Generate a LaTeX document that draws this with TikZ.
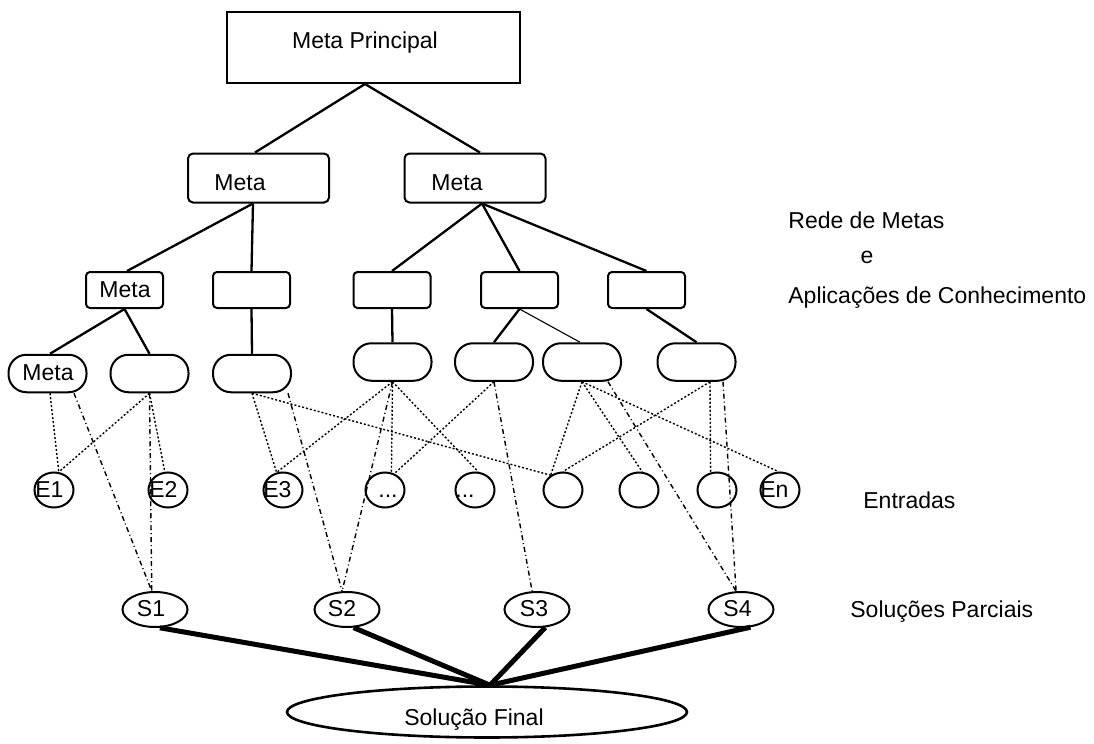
\documentclass[tikz,border=0pt]{standalone}
\usepackage{fontspec}
\setmainfont{Liberation Sans}
\usetikzlibrary{shapes.geometric}
\begin{document}
\begin{tikzpicture}[x=0.5pt,y=-0.5pt,
  shp/.style={draw, line width=1pt, inner sep=0pt},
  topbox/.style={shp, rectangle, minimum width=146.5pt, minimum height=35.5pt},
  goalbox/.style={shp, rectangle, rounded corners=2.5pt, minimum width=70.5pt, minimum height=24.5pt},
  appbox/.style={shp, rectangle, rounded corners=2pt, minimum width=38.5pt, minimum height=18pt},
  pill/.style={shp, rectangle, rounded corners=9pt, minimum width=39pt, minimum height=18.75pt},
  entry/.style={shp, ellipse, minimum width=19.5pt, minimum height=17.5pt},
  sol/.style={shp, ellipse, minimum width=32.5pt, minimum height=17.5pt},
  fin/.style={shp, ellipse, line width=1.3pt, minimum width=200pt, minimum height=25.5pt},
  txt/.style={inner sep=0pt, font=\fontsize{11.5pt}{13pt}\selectfont},
  tree/.style={line width=1.15pt},
  fineline/.style={line width=0.55pt},
  heavy/.style={line width=2.5pt},
  dots/.style={line width=0.7pt, dash pattern=on 1pt off 1pt},
  dashdot/.style={line width=0.7pt, dash pattern=on 2.5pt off 1.5pt on 0.5pt off 1.5pt}
]
\useasboundingbox (0,0) rectangle (1094,744);

% goal network
\node[topbox] (mp) at (373.5,47.5) {};
\node[goalbox] (g1) at (258.5,178) {};
\node[goalbox] (g2) at (475,178) {};

\node[appbox] (a1) at (124.5,290) {};
\node[appbox] (a2) at (251.5,290) {};
\node[appbox] (a3) at (392,290) {};
\node[appbox] (a4) at (519.5,290) {};
\node[appbox] (a5) at (646.5,290) {};

\node[pill] (p1) at (47.5,373.5) {};
\node[pill] (p2) at (149.5,373.5) {};
\node[pill] (p3) at (252,373.5) {};
\node[pill] (p4) at (392.5,362) {};
\node[pill] (p5) at (494,362) {};
\node[pill] (p6) at (582,362) {};
\node[pill] (p7) at (696.5,362) {};

% inputs
\node[entry] (e1) at (54,490) {};
\node[entry] (e2) at (168,490) {};
\node[entry] (e3) at (283,490) {};
\node[entry] (c1) at (385,490) {};
\node[entry] (c2) at (475,490) {};
\node[entry] (c3) at (563,490) {};
\node[entry] (c4) at (639,490) {};
\node[entry] (c5) at (717,490) {};
\node[entry] (en) at (780,490) {};

% partial and final solutions
\node[sol] (s1) at (155,609.5) {};
\node[sol] (s2) at (347,609.5) {};
\node[sol] (s3) at (537,609.5) {};
\node[sol] (s4) at (741,609.5) {};
\node[fin] (sf) at (487,712) {};

% texts
\node[txt, anchor=base] (tmp) at (365,48) {Meta Principal};
\node[txt, anchor=base] (tg1) at (240,190) {Meta};
\node[txt, anchor=base] (tg2) at (457,190) {Meta};
\node[txt, anchor=base] (ta1) at (125,297) {Meta};
\node[txt, anchor=base] (tp1) at (48,380) {Meta};
\node[txt, anchor=base west] (te1) at (35,497) {E1};
\node[txt, anchor=base west] (te2) at (149,497) {E2};
\node[txt, anchor=base west] (te3) at (263,497) {E3};
\node[txt, anchor=base west] (ten) at (760,497) {En};
\node[txt, anchor=base] (tc1) at (388,497) {...};
\node[txt, anchor=base] (tc2) at (465,497) {...};
\node[txt, anchor=base] (ts1) at (151,616) {S1};
\node[txt, anchor=base] (ts2) at (342,616) {S2};
\node[txt, anchor=base] (ts3) at (534,616) {S3};
\node[txt, anchor=base] (ts4) at (737.5,616) {S4};
\node[txt, anchor=base] (tsf) at (474,725) {Solução Final};

\node[txt, anchor=base west] (l1) at (788,228) {Rede de Metas};
\node[txt, anchor=base] (l2) at (867,263) {e};
\node[txt, anchor=base west] (l3) at (788,303) {Aplicações de Conhecimento};
\node[txt, anchor=base west] (l4) at (863,508) {Entradas};
\node[txt, anchor=base west] (l5) at (850,617) {Soluções Parciais};

% tree connectors
\draw[tree] ([xshift=-4.25pt]mp.south) -- ([xshift=-1.75pt]g1.north);
\draw[tree] ([xshift=-4.25pt]mp.south) -- ([xshift=2.5pt]g2.north);
\draw[tree] ([xshift=-2.75pt]g1.south) -- ([xshift=1.25pt]a1.north);
\draw[tree] ([xshift=-2.75pt]g1.south) -- (a2.north);
\draw[tree] ([xshift=3.5pt]g2.south) -- (a3.north);
\draw[tree] ([xshift=3.5pt]g2.south) -- (a4.north);
\draw[tree] ([xshift=3.5pt]g2.south) -- (a5.north);
\draw[tree] (a1.south) -- ([xshift=1.25pt]p1.north);
\draw[tree] (a1.south) -- (p2.north);
\draw[tree] (a2.south) -- (p3.north);
\draw[tree] (a3.south) -- (p4.north);
\draw[tree] (a4.south) -- (p5.north);
\draw[fineline] (a4.south) -- ([xshift=-1pt]p6.north);
\draw[tree] (a5.south) -- (p7.north);

% inputs used by each application
\draw[dots] ([xshift=1.25pt]p1.south) -- (e1.75);
\draw[dots] (p2.south) -- (e1.75);
\draw[dots] (p2.south) -- (e2.100);
\draw[dots] (p3.south) -- (e3.110);
\draw[dots] (p3.south) -- (c3.130);
\draw[dots] (p4.south) -- (e3.110);
\draw[dots] (p4.south) -- (c1.70);
\draw[dots] (p4.south) -- (c2.80);
\draw[dots] (p5.south) -- (c1.60);
\draw[dots] (p6.south) -- (c3.130);
\draw[dots] (p6.south) -- (c4.80);
\draw[dots] (p6.south) -- (en.95);
\draw[dots] ([xshift=6.75pt]p7.south) -- (c3.90);
\draw[dots] ([xshift=6.75pt]p7.south) -- (c5.110);

% partial solutions produced
\draw[dashdot] ([xshift=13.25pt]p1.south) -- (s1.100);
\draw[dashdot] (p2.south) -- (s1.100);
\draw[dashdot] ([xshift=18pt]p3.south) -- (s2.105);
\draw[dashdot] (p4.south) -- (s2.105);
\draw[dashdot] (p5.south) -- (s3.105);
\draw[dashdot] ([xshift=13pt]p6.south) -- (s4.105);
\draw[dashdot] ([xshift=13.25pt]p7.south) -- (s4.105);

% combination into the final solution
\draw[heavy] (s1.-75) -- ([xshift=1.5pt]sf.north);
\draw[heavy] (s2.-70) -- ([xshift=1.5pt]sf.north);
\draw[heavy] (s3.-65) -- ([xshift=1.5pt]sf.north);
\draw[heavy] (s4.-62) -- ([xshift=1.5pt]sf.north);
\end{tikzpicture}
\end{document}
